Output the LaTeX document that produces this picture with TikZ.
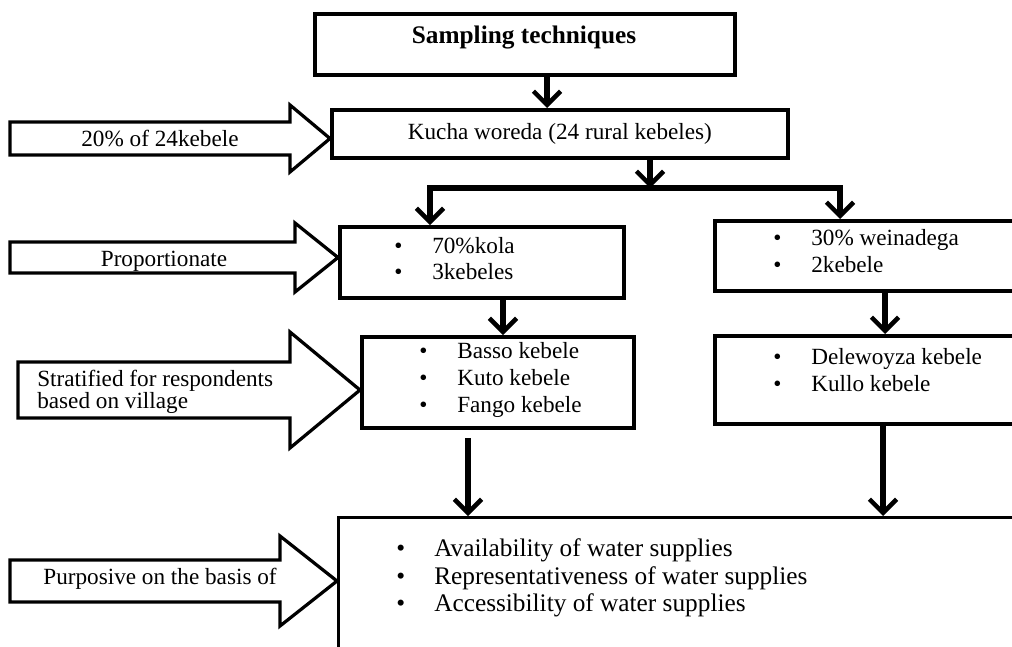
\documentclass[tikz,border=0pt]{standalone}
\usepackage{fontspec}
\setmainfont{Liberation Serif}
\usetikzlibrary{arrows.meta, calc}
\newcommand{\itm}{\makebox[0.95cm][l]{\textbullet}}
% hollow block arrow: left x, head base x, tip x, mid y, shaft half, head half
\newcommand{\bigarrow}[6]{\draw[blk] ({#1},{#4-#5}) -- ({#2},{#4-#5}) -- ({#2},{#4-#6}) -- ({#3},{#4}) -- ({#2},{#4+#6}) -- ({#2},{#4+#5}) -- ({#1},{#4+#5}) -- cycle;}
\tikzset{
  box/.style={draw, line width=2.6pt, inner sep=0pt, anchor=north west},
  list/.style={anchor=west, align=left, inner sep=0pt},
  tag/.style={anchor=mid, inner sep=0pt},
  blk/.style={draw, line width=2.3pt, line join=miter},
  flow/.style={line width=3.8pt, -{Straight Barb[length=3.4mm, width=6.8mm, line width=3.2pt]}},
}
\begin{document}
\begin{tikzpicture}[x=0.025cm, y=-0.025cm, every node/.append style={font=\fontsize{16.5}{19}\selectfont}]
  \useasboundingbox (0,0) rectangle (1012,646);
  \clip (0,0) rectangle (1012,646);
  % boxes
  \node[box, minimum width=10.5cm, minimum height=1.525cm] (title) at (313,12) {};
  \node[tag, font=\fontsize{18}{20}\selectfont\bfseries] (titletext) at (524,40) {Sampling techniques};
  \node[box, minimum width=11.4cm, minimum height=1.2cm] (kucha) at (330,108) {Kucha woreda (24 rural kebeles)};
  \node[box, minimum width=7.1cm, minimum height=1.775cm] (kola) at (338,225) {};
  \node[list] (kolalist) at (394,258.5) {\itm 70\%kola\\ \itm 3kebeles};
  \node[box, minimum width=7.925cm, minimum height=1.75cm] (wein) at (713,219) {};
  \node[list] (weinlist) at (773,251) {\itm 30\% weinadega\\ \itm 2kebele};
  \node[box, minimum width=6.8cm, minimum height=2.275cm] (basso) at (360,335) {};
  \node[list] (bassolist) at (419,380) {\itm Basso kebele\\ \itm Kuto kebele\\ \itm Fango kebele};
  \node[box, minimum width=7.925cm, minimum height=2.2cm] (dele) at (713,334) {};
  \node[list] (delelist) at (773,370) {\itm Delewoyza kebele\\ \itm Kullo kebele};
  \node[box, line width=1.8pt, minimum width=17.325cm, minimum height=3.85cm] (final) at (337,516) {};
  \node[list, font=\fontsize{18}{19.6}\selectfont] (finallist) at (396,578) {\itm Availability of water supplies\\ \itm Representativeness of water supplies\\ \itm Accessibility of water supplies};
  % arrows between boxes
  \coordinate (split) at (650,188);
  \draw[flow] (title.south -| 547,0) -- (kucha.north -| 547,0);
  \draw[flow] (kucha.south -| split) -- (split);
  \draw[flow] (split) -| (kola.north -| 430,0);
  \draw[flow] (split) -| (wein.north -| 840,0);
  \draw[flow] (kola.south -| 503,0) -- (basso.north -| 503,0);
  \draw[flow] (wein.south -| 885,0) -- (dele.north -| 885,0);
  \draw[flow, shorten <=0.22cm] (basso.south -| 468,0) -- (final.north -| 468,0);
  \draw[flow] (dele.south -| 883,0) -- (final.north -| 883,0);
  % block arrows on the left
  \bigarrow{10}{290}{330}{138.5}{16.5}{33.5}
  \node[tag] (note1) at (160,143) {20\% of 24kebele};
  \bigarrow{10}{295}{338}{257.5}{15.5}{34.5}
  \node[tag] (note2) at (164,263) {Proportionate};
  \bigarrow{18}{290}{360}{390}{28}{58}
  \node[list, font=\fontsize{16.5}{14.5}\selectfont] (note3) at (37,392) {Stratified for respondents\\based on village};
  \bigarrow{10}{280}{337}{581}{21}{45}
  \node[tag] (note4) at (160,581) {Purposive on the basis of};
\end{tikzpicture}
\end{document}
